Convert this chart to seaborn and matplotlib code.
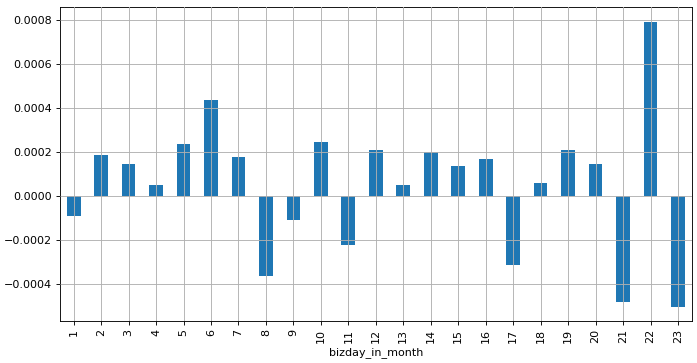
import matplotlib
matplotlib.use("Agg")
import matplotlib.pyplot as plt
import seaborn as sns
import pandas as pd

days = list(range(1, 24))
values = [-0.0000909, 0.000183, 0.000144, 0.00005, 0.000232, 0.000436, 0.000177,
          -0.000365, -0.000109, 0.000245, -0.000224, 0.000209, 0.00005, 0.0002,
          0.000136, 0.000165, -0.000317, 0.0000576, 0.000205, 0.000144,
          -0.000483, 0.000791, -0.000505]

df = pd.DataFrame({"bizday_in_month": [str(d) for d in days], "value": values})

DPI = 80
fig, ax = plt.subplots(figsize=(697 / DPI, 363 / DPI), dpi=DPI)
sns.barplot(data=df, x="bizday_in_month", y="value", color="#1f77b4",
            saturation=1, width=0.5, ax=ax, errorbar=None)
ax.grid(True, color="#b0b0b0", linewidth=0.8)
ax.set_axisbelow(False)
ax.set_ylabel("")
ax.set_xlabel("bizday_in_month")
ax.tick_params(axis="x", rotation=90)
ax.set_xlim(-0.5, len(days) - 0.5)
ax.margins(y=0.05)
fig.subplots_adjust(left=0.086, right=0.9924, top=0.98, bottom=0.116)
fig.savefig("out.png", dpi=DPI)
